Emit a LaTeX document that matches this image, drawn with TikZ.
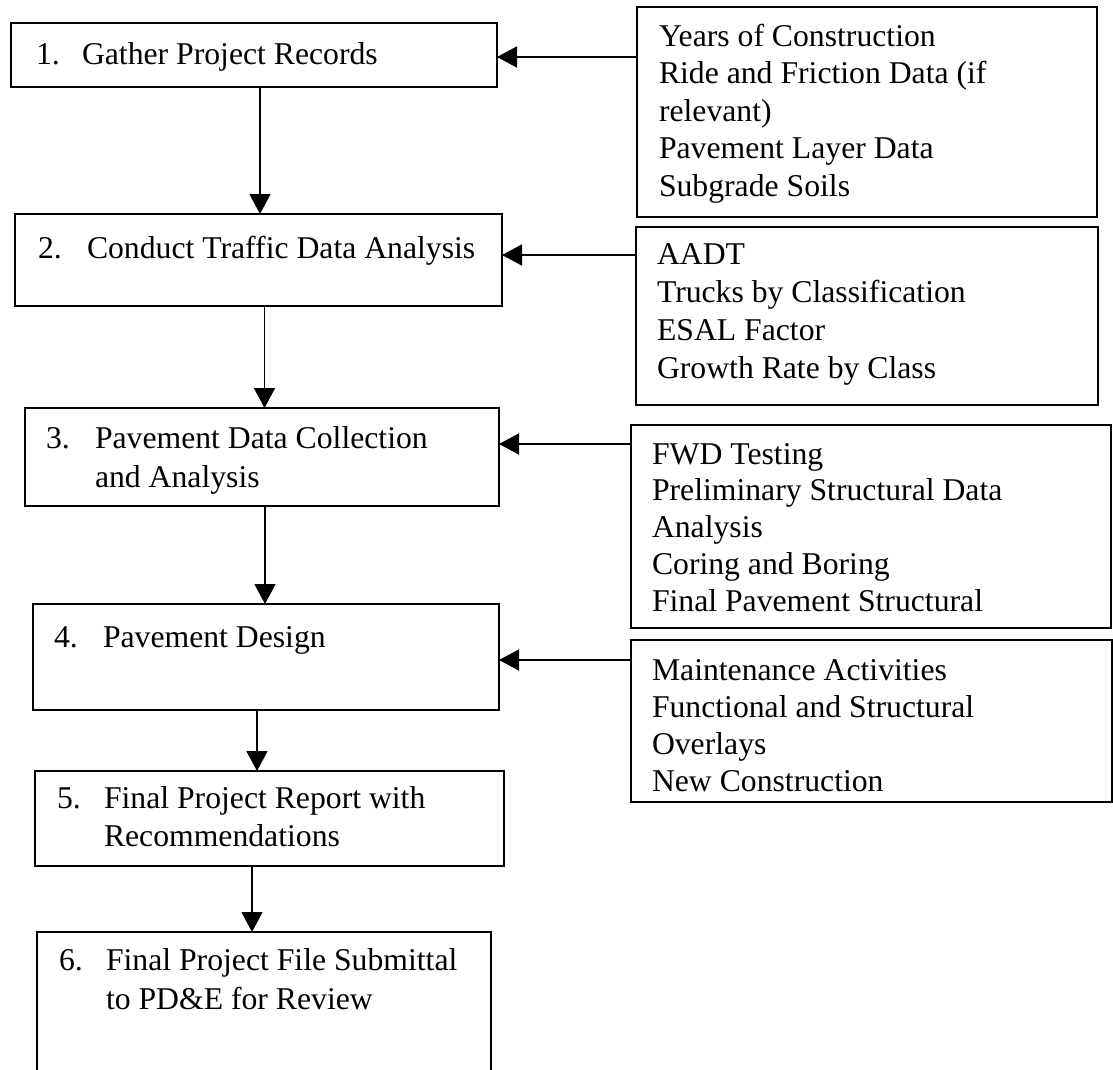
\documentclass[tikz,border=0pt]{standalone}
\usepackage{fontspec}
\setmainfont{Liberation Serif}
\usetikzlibrary{arrows.meta,calc}
\begin{document}
\begin{tikzpicture}[x=1pt,y=-1pt,
  box/.style={draw, line width=1.6pt, inner sep=0pt, outer sep=0pt, anchor=north west},
  % multi-line texts are anchored at the baseline of their LAST line
  txt/.style={anchor=base west, inner sep=0pt, outer sep=0pt, align=left},
  ltxt/.style={txt, font=\fontsize{31.7}{39}\selectfont},
  arr/.style={line width=1.6pt, -{Triangle[length=20pt,width=21pt]}}]
\useasboundingbox (0,0) rectangle (1113,1069);
\clip (0,0) rectangle (1113,1069);
\fill[white] (0,0) rectangle (1113,1069);

% left step boxes
\node[box, minimum width=486, minimum height=64]  (b1) at (11,23) {};
\node[box, minimum width=487, minimum height=92]  (b2) at (15,214) {};
\node[box, minimum width=474, minimum height=98]  (b3) at (25,408) {};
\node[box, minimum width=466, minimum height=106] (b4) at (33,604) {};
\node[box, minimum width=469, minimum height=95]  (b5) at (35,771) {};
\node[box, minimum width=454, minimum height=160] (b6) at (37,932) {};

% right input boxes
\node[box, minimum width=460, minimum height=210] (r1) at (637,7) {};
\node[box, minimum width=462, minimum height=178] (r2) at (636,227) {};
\node[box, minimum width=480, minimum height=203] (r3) at (631,425) {};
\node[box, minimum width=481, minimum height=162] (r4) at (631,640) {};

% step texts
\node[ltxt] (n1) at (36,64) {1.};
\node[ltxt] (t1) at (82,64) {Gather Project Records};
\node[ltxt] (n2) at (38,258) {2.};
\node[ltxt] (t2) at (87,258) {Conduct Traffic Data Analysis};
\node[ltxt] (n3) at (46,448) {3.};
\node[ltxt] (t3) at (95,487) {Pavement Data Collection\\and Analysis};
\node[ltxt] (n4) at (54,647) {4.};
\node[ltxt] (t4) at (103,647) {Pavement Design};
\node[ltxt] (n5) at (57,808) {5.};
\node[ltxt, font=\fontsize{31.7}{38}\selectfont] (t5) at (104,846) {Final Project Report with\\Recommendations};
\node[ltxt] (n6) at (59,970) {6.};
\node[ltxt] (t6) at (106,1009) {Final Project File Submittal\\to PD\&E for Review};

% input texts
\node[txt, font=\fontsize{31.7}{37.5}\selectfont] (s1) at (659,196) {Years of Construction\\Ride and Friction Data (if\\relevant)\\Pavement Layer Data\\Subgrade Soils};
\node[txt, font=\fontsize{31.7}{37.7}\selectfont] (s2) at (657,378) {AADT\\Trucks by Classification\\ESAL Factor\\Growth Rate by Class};
\node[txt, font=\fontsize{31.7}{36.75}\selectfont] (s3) at (652,611) {FWD Testing\\Preliminary Structural Data\\Analysis\\Coring and Boring\\Final Pavement Structural};
\node[txt, font=\fontsize{31.7}{36.7}\selectfont] (s4) at (652,791) {Maintenance Activities\\Functional and Structural\\Overlays\\New Construction};

% helper coordinates for connector positions
\coordinate (v1) at (260,0);
\coordinate (v2) at (264.5,0);
\coordinate (v3) at (265,0);
\coordinate (v4) at (257,0);
\coordinate (v5) at (252,0);
\coordinate (h1) at (0,57);
\coordinate (h2) at (0,255);
\coordinate (h3) at (0,444);
\coordinate (h4) at (0,660);

% vertical flow
\draw[arr] (b1.south -| v1) -- (b2.north -| v1);
\draw[arr] (b2.south -| v2) -- (b3.north -| v2);
\draw[arr] (b3.south -| v3) -- (b4.north -| v3);
\draw[arr] (b4.south -| v4) -- (b5.north -| v4);
\draw[arr] (b5.south -| v5) -- (b6.north -| v5);

% inputs
\draw[arr] (r1.west |- h1) -- (b1.east |- h1);
\draw[arr] (r2.west |- h2) -- (b2.east |- h2);
\draw[arr] (r3.west |- h3) -- (b3.east |- h3);
\draw[arr] (r4.west |- h4) -- (b4.east |- h4);
\end{tikzpicture}
\end{document}
